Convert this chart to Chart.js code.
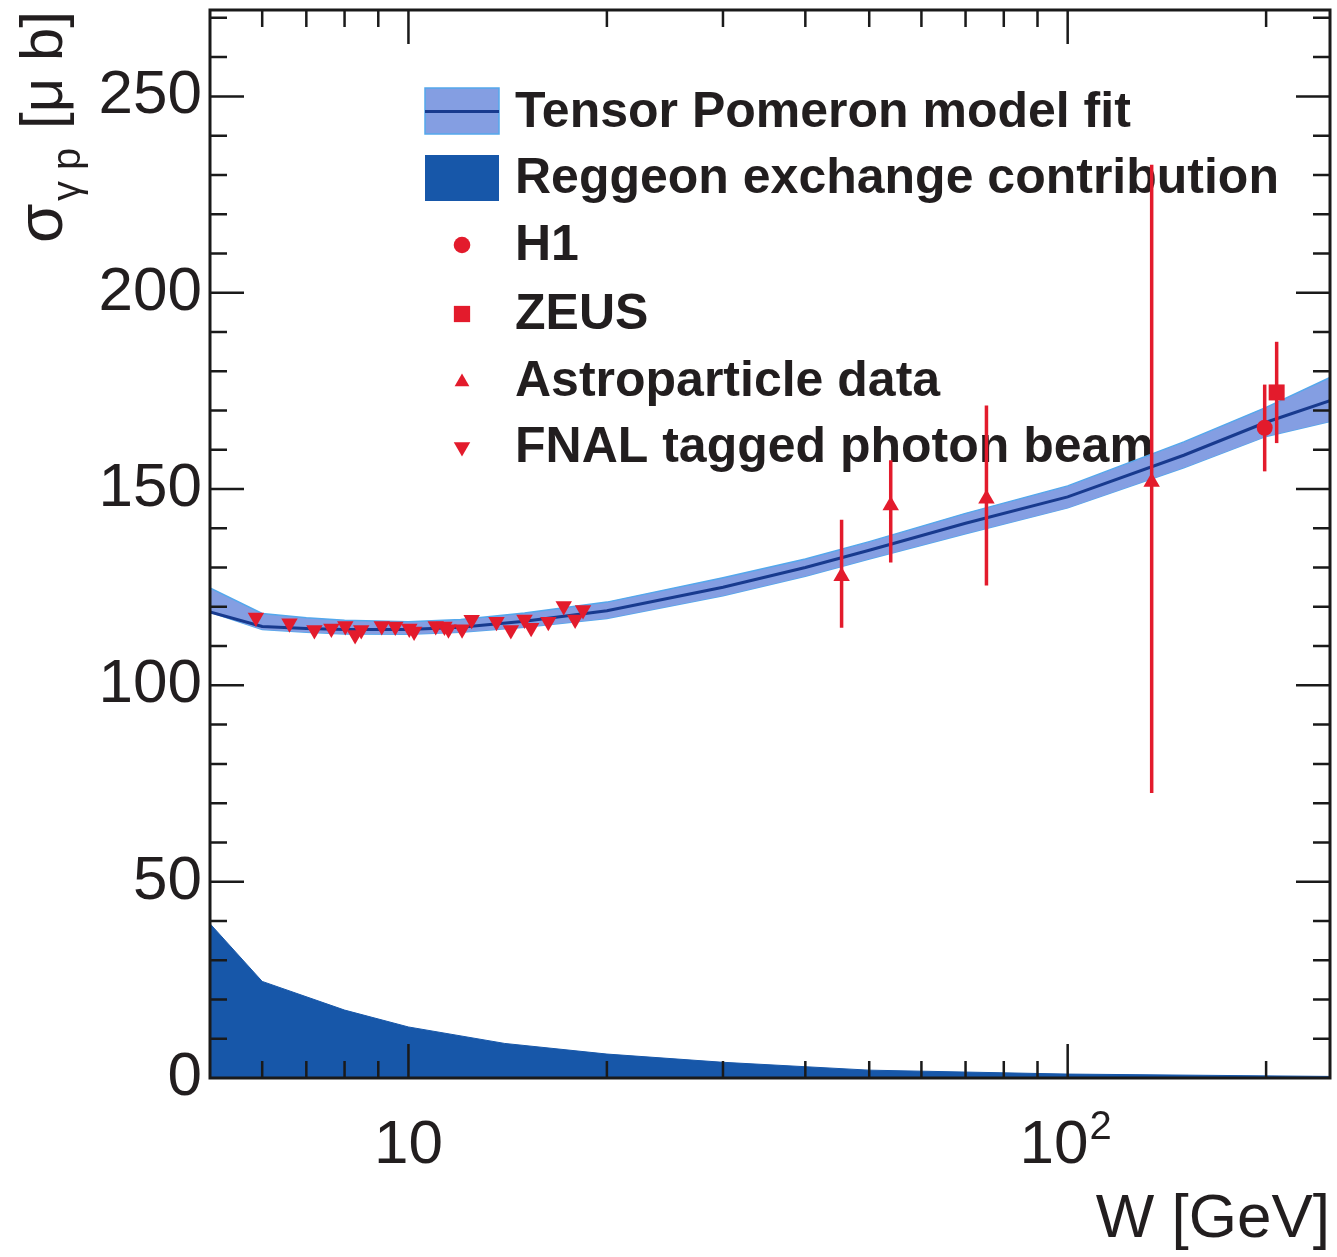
<!DOCTYPE html>
<html><head><meta charset="utf-8">
<script src="https://cdn.jsdelivr.net/npm/chart.js@4/dist/chart.umd.min.js"></script>
<style>html,body{margin:0;padding:0;background:#fff;}canvas{display:block;}</style>
</head><body>
<canvas id="c" width="1337" height="1257"></canvas>
<script>
// ---------------- data ----------------
const fitW       = [5, 6, 7, 8, 10, 12, 15, 20, 30, 40, 50, 70, 100, 150, 200, 250];
const fitCentral = [118.7, 115.0, 114.5, 114.2, 114.2, 114.8, 116.3, 119.0, 125.0, 130.0, 134.4, 141.3, 148.0, 158.6, 167.0, 172.5];
const fitLow     = [118.6, 114.2, 113.5, 113.1, 113.0, 113.5, 114.8, 117.0, 122.8, 127.8, 132.2, 138.6, 145.2, 155.4, 163.4, 167.2];
const fitHigh    = [124.8, 118.3, 117.2, 116.6, 116.2, 116.8, 118.4, 121.2, 127.4, 132.2, 136.6, 143.8, 150.8, 162.0, 170.8, 178.4];

const reggeonW     = [5, 6, 8, 10, 14, 20, 30, 50, 100, 250];
const reggeonSigma = [39.3, 24.6, 17.3, 13.0, 8.8, 6.1, 4.0, 2.0, 1.0, 0.4];

const fnalW     = [5.87, 6.60, 7.20, 7.64, 8.02, 8.30, 8.48, 9.11, 9.55, 10.03, 10.2, 11.0, 11.34, 11.5, 12.06, 12.47, 13.6, 14.3, 15.0, 15.35, 16.3, 17.2, 17.9, 18.4];
const fnalSigma = [117.3, 115.8, 114.1, 114.5, 115.1, 112.8, 114.1, 115.1, 115.0, 114.5, 113.7, 115.1, 115.0, 114.3, 114.3, 116.7, 116.2, 114.1, 116.8, 114.7, 116.2, 120.2, 116.8, 119.2];

const astroW       = [45.4, 53.9, 75.3, 134.1];
const astroSigma   = [127.8, 145.8, 147.5, 151.8];
const astroErrLow  = [13.1, 14.5, 22.1, 79.2];
const astroErrHigh = [14.4, 11.5, 23.8, 80.8];

const h1W = [199];       const h1Sigma = [165.6];  const h1ErrLow = [11.1];  const h1ErrHigh = [11.0];
const zeusW = [207.5];   const zeusSigma = [174.6]; const zeusErrLow = [12.9]; const zeusErrHigh = [12.9];

const legendLabels = ['Tensor Pomeron model fit', 'Reggeon exchange contribution', 'H1', 'ZEUS', 'Astroparticle data', 'FNAL tagged photon beam'];

const xTickValues = [10, 100];
const xTickBase   = ['10', '10'];
const xTickSup    = ['', '2'];
const yTickValues = [0, 50, 100, 150, 200, 250];
const yTickLabels = ['0', '50', '100', '150', '200', '250'];
const xMinorValues = [6, 7, 8, 9, 20, 30, 40, 50, 60, 70, 80, 90, 200];

// ---------------- styles ----------------
const RED = '#e31b2c';
const BAND_FILL = 'rgb(132,158,226)';
const BAND_EDGE = 'rgb(84,168,236)';
const LINE_DARK = '#183a8e';
const REGGEON = '#1757a9';
const INK = '#221e1f';
const FONT = '"Liberation Sans", Arial, sans-serif';

function pts(xs, ys) { return xs.map((x, i) => ({x: x, y: ys[i]})); }

function drawMarker(ctx, style, x, y, r, rot) {
  ctx.beginPath();
  if (style === 'circle') {
    ctx.arc(x, y, r, 0, Math.PI * 2);
  } else if (style === 'rect') {
    const s = r * Math.SQRT1_2;
    ctx.rect(x - s, y - s, 2 * s, 2 * s);
  } else if (style === 'triangle') {
    let a = (rot || 0) * Math.PI / 180;
    ctx.moveTo(x + Math.sin(a) * r, y - Math.cos(a) * r);
    a += 2 * Math.PI / 3;
    ctx.lineTo(x + Math.sin(a) * r, y - Math.cos(a) * r);
    a += 2 * Math.PI / 3;
    ctx.lineTo(x + Math.sin(a) * r, y - Math.cos(a) * r);
    ctx.closePath();
  }
  ctx.fill();
}

const errorBarPlugin = {
  id: 'errorBars',
  beforeDatasetDraw(chart, args) {
    const ds = chart.data.datasets[args.index];
    if (!ds.errLow) return;
    const ctx = chart.ctx, xs = chart.scales.x, ys = chart.scales.y;
    ctx.save();
    ctx.strokeStyle = RED;
    ctx.lineWidth = 3.5;
    ctx.beginPath();
    ds.data.forEach((p, i) => {
      const px = xs.getPixelForValue(p.x);
      ctx.moveTo(px, ys.getPixelForValue(p.y - ds.errLow[i]));
      ctx.lineTo(px, ys.getPixelForValue(p.y + ds.errHigh[i]));
    });
    ctx.stroke();
    ctx.restore();
  }
};

const legendPlugin = {
  id: 'customLegend',
  beforeDatasetsDraw(chart) {
    const ctx = chart.ctx, a = chart.chartArea;
    const bx = a.left + 215, bw = 74, mx = bx + bw / 2;
    const tx = a.left + 305;
    const base = [117, 183, 250, 319, 386, 452].map(v => v + a.top);
    ctx.save();
    // band symbol
    ctx.fillStyle = BAND_FILL;
    ctx.fillRect(bx, a.top + 78, bw, 46);
    ctx.strokeStyle = BAND_EDGE; ctx.lineWidth = 1.5;
    ctx.strokeRect(bx, a.top + 78, bw, 46);
    ctx.strokeStyle = LINE_DARK; ctx.lineWidth = 3;
    ctx.beginPath(); ctx.moveTo(bx, a.top + 101.5); ctx.lineTo(bx + bw, a.top + 101.5); ctx.stroke();
    // reggeon symbol
    ctx.fillStyle = REGGEON;
    ctx.fillRect(bx, a.top + 145, bw, 46);
    // markers
    ctx.fillStyle = RED;
    drawMarker(ctx, 'circle', mx, base[2] - 15, 8.3);
    drawMarker(ctx, 'rect', mx, base[3] - 15, 11.5);
    drawMarker(ctx, 'triangle', mx, base[4] - 14, 8.5, 0);
    drawMarker(ctx, 'triangle', mx, base[5] - 15, 9.5, 180);
    // texts
    ctx.fillStyle = INK;
    ctx.font = 'bold 50px ' + FONT;
    ctx.textBaseline = 'alphabetic';
    ctx.textAlign = 'left';
    legendLabels.forEach((t, i) => ctx.fillText(t, tx, base[i]));
    ctx.restore();
  }
};

const framePlugin = {
  id: 'frame',
  afterDatasetsDraw(chart) {
    const ctx = chart.ctx, a = chart.chartArea, xs = chart.scales.x, ys = chart.scales.y;
    ctx.save();
    ctx.strokeStyle = '#1a1a1a';
    ctx.lineWidth = 2.5;
    ctx.beginPath();
    const xt = (v, L) => {
      const px = xs.getPixelForValue(v);
      ctx.moveTo(px, a.bottom); ctx.lineTo(px, a.bottom - L);
      ctx.moveTo(px, a.top); ctx.lineTo(px, a.top + L);
    };
    xMinorValues.forEach(v => xt(v, 17));
    xTickValues.forEach(v => xt(v, 34));
    for (let v = 10; v <= 270; v += 10) {
      const py = ys.getPixelForValue(v);
      const L = (v % 50 === 0) ? 34 : 17;
      ctx.moveTo(a.left, py); ctx.lineTo(a.left + L, py);
      ctx.moveTo(a.right, py); ctx.lineTo(a.right - L, py);
    }
    ctx.stroke();
    ctx.lineWidth = 3;
    ctx.strokeRect(a.left, a.top, a.right - a.left, a.bottom - a.top);
    ctx.restore();
  },
  afterDraw(chart) {
    const ctx = chart.ctx, a = chart.chartArea, xs = chart.scales.x;
    ctx.save();
    ctx.fillStyle = INK;
    ctx.textBaseline = 'alphabetic';
    ctx.textAlign = 'left';
    // x tick labels (with superscript exponent)
    xTickValues.forEach((v, i) => {
      const px = xs.getPixelForValue(v);
      ctx.font = '62px ' + FONT;
      const wb = ctx.measureText(xTickBase[i]).width;
      ctx.font = '40px ' + FONT;
      const ws = xTickSup[i] ? ctx.measureText(xTickSup[i]).width + 1 : 0;
      const x0 = px - (wb + ws) / 2 - (ws ? 2 : 0);
      const by = a.bottom + 85;
      ctx.font = '62px ' + FONT;
      ctx.fillText(xTickBase[i], x0, by);
      if (ws) { ctx.font = '40px ' + FONT; ctx.fillText(xTickSup[i], x0 + wb + 1, by - 24); }
    });
    // y axis title: sigma_{gamma p} [mu b]
    ctx.translate(62, 245);
    ctx.rotate(-Math.PI / 2);
    ctx.font = '64px ' + FONT;
    ctx.fillText('\u03C3', 2, 0);
    ctx.font = '40px ' + FONT;
    ctx.fillText('\u03B3 p', 44, 18);
    ctx.font = '60px ' + FONT;
    ctx.fillText('[\u03BC b]', 116, 0);
    ctx.restore();
  }
};

new Chart(document.getElementById('c'), {
  type: 'line',
  data: {
    datasets: [
      { label: legendLabels[5], data: pts(fnalW, fnalSigma), showLine: false,
        pointStyle: 'triangle', rotation: 180, pointRadius: 9.5, pointBackgroundColor: RED, pointBorderWidth: 0, pointBorderColor: RED },
      { label: legendLabels[4], data: pts(astroW, astroSigma), showLine: false, errLow: astroErrLow, errHigh: astroErrHigh,
        pointStyle: 'triangle', pointRadius: 9.5, pointBackgroundColor: RED, pointBorderWidth: 0, pointBorderColor: RED },
      { label: legendLabels[2], data: pts(h1W, h1Sigma), showLine: false, errLow: h1ErrLow, errHigh: h1ErrHigh,
        pointStyle: 'circle', pointRadius: 8, pointBackgroundColor: RED, pointBorderWidth: 0, pointBorderColor: RED },
      { label: legendLabels[3], data: pts(zeusW, zeusSigma), showLine: false, errLow: zeusErrLow, errHigh: zeusErrHigh,
        pointStyle: 'rect', pointRadius: 11.3, pointBackgroundColor: RED, pointBorderWidth: 0, pointBorderColor: RED },
      { label: legendLabels[0] + ' (central)', data: pts(fitW, fitCentral), borderColor: LINE_DARK, borderWidth: 3,
        pointRadius: 0, fill: false },
      { label: legendLabels[0] + ' (upper)', data: pts(fitW, fitHigh), borderColor: BAND_EDGE, borderWidth: 1.5,
        backgroundColor: BAND_FILL, pointRadius: 0, fill: '+1' },
      { label: legendLabels[0] + ' (lower)', data: pts(fitW, fitLow), borderColor: BAND_EDGE, borderWidth: 1.5,
        pointRadius: 0, fill: false },
      { label: legendLabels[1], data: pts(reggeonW, reggeonSigma), borderColor: REGGEON, borderWidth: 1,
        backgroundColor: REGGEON, pointRadius: 0, fill: 'origin' }
    ]
  },
  options: {
    responsive: false,
    animation: false,
    devicePixelRatio: 1,
    layout: { autoPadding: false, padding: { left: 0, top: 10, right: 7, bottom: 0 } },
    plugins: { legend: { display: false }, tooltip: { enabled: false } },
    elements: { line: { tension: 0 } },
    scales: {
      x: {
        type: 'logarithmic', min: 5, max: 250, bounds: 'data',
        grid: { display: false, drawTicks: false }, border: { display: false },
        afterBuildTicks: s => { s.ticks = xTickValues.map(v => ({value: v})); },
        afterFit: s => { s.height = 179; s.paddingLeft = 0; s.paddingRight = 0; },
        ticks: { display: false, autoSkip: false, maxRotation: 0, minRotation: 0 },
        title: { display: true, text: 'W [GeV]', align: 'end', color: INK,
          font: { family: FONT, size: 62 }, padding: { top: 0, bottom: 0 } }
      },
      y: {
        type: 'linear', min: 0, max: 272, bounds: 'data',
        grid: { display: false, drawTicks: false }, border: { display: false },
        afterBuildTicks: s => { s.ticks = yTickValues.map(v => ({value: v})); },
        afterFit: s => { s.width = 210; s.paddingTop = 0; s.paddingBottom = 0; },
        ticks: { autoSkip: false, padding: 8, color: INK, font: { family: FONT, size: 62 },
          callback: v => { const i = yTickValues.indexOf(v); return i >= 0 ? yTickLabels[i] : ''; } }
      }
    }
  },
  plugins: [errorBarPlugin, legendPlugin, framePlugin]
});
</script>
</body></html>
